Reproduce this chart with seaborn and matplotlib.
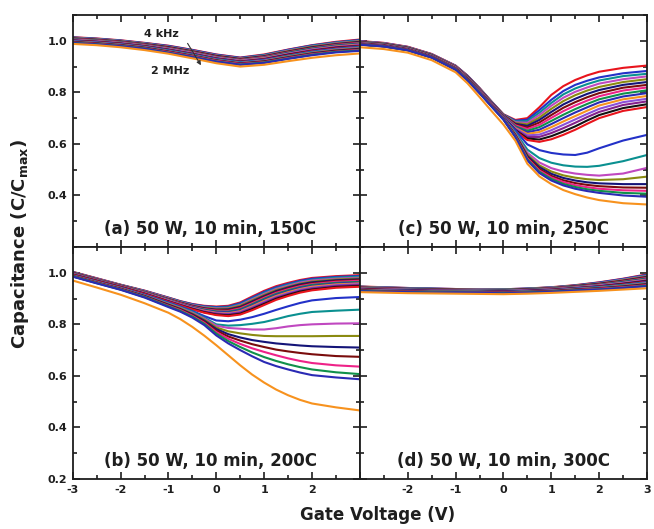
import matplotlib
matplotlib.use("Agg")
import matplotlib.pyplot as plt
import pandas as pd
import seaborn as sns
from matplotlib.ticker import MultipleLocator

# Gate-voltage sweep points (V): coarse for the flat panels, finer for the
# panels whose curves bend sharply around flat-band
gate_v_coarse = [-3, -2.5, -2, -1.5, -1, -0.5, 0, 0.5, 1, 1.5, 2, 2.5, 3]
gate_v_fine = [-3, -2.5, -2, -1.5, -1, -0.75, -0.5, -0.25, 0, 0.25, 0.5,
               0.75, 1, 1.25, 1.5, 1.75, 2, 2.5, 3]

# Measurement frequencies, 4 kHz ... 2 MHz
freq_labels = ["4 kHz", "5.2 kHz", "6.8 kHz", "9 kHz", "12 kHz", "15 kHz", "20 kHz",
               "26 kHz", "34 kHz", "45 kHz", "58 kHz", "76 kHz", "100 kHz", "130 kHz",
               "170 kHz", "220 kHz", "290 kHz", "380 kHz", "500 kHz", "650 kHz",
               "850 kHz", "1.1 MHz", "1.4 MHz", "1.7 MHz", "2 MHz"]

curve_colors = ["#e8141c", "#2331c8", "#0a9090", "#c048c0", "#8a8a10", "#141478",
                "#7a0c0c", "#ee2288", "#10904a", "#2a2ab4", "#f7921e", "#8a4fd8",
                "#84208a", "#111111",
                "#e8141c", "#2331c8", "#0a9090", "#c048c0", "#8a8a10", "#141478",
                "#7a0c0c", "#ee2288", "#10904a", "#2a2ab4", "#f7921e"]

# Normalised capacitance C/Cmax, one row per frequency
cv_150C = [
    [1.014, 1.009, 1.002, 0.992, 0.981, 0.965, 0.947, 0.935, 0.947, 0.966, 0.983, 0.996, 1.005],
    [1.013, 1.008, 1.001, 0.991, 0.980, 0.964, 0.946, 0.934, 0.945, 0.965, 0.982, 0.994, 1.003],
    [1.012, 1.007, 1.000, 0.990, 0.978, 0.962, 0.944, 0.932, 0.944, 0.963, 0.980, 0.993, 1.001],
    [1.011, 1.006, 0.999, 0.989, 0.977, 0.961, 0.943, 0.931, 0.942, 0.962, 0.978, 0.991, 0.999],
    [1.010, 1.005, 0.998, 0.988, 0.976, 0.960, 0.942, 0.930, 0.941, 0.960, 0.977, 0.989, 0.998],
    [1.009, 1.004, 0.997, 0.987, 0.975, 0.959, 0.941, 0.929, 0.940, 0.958, 0.975, 0.987, 0.996],
    [1.008, 1.003, 0.996, 0.986, 0.974, 0.958, 0.940, 0.928, 0.938, 0.957, 0.973, 0.985, 0.994],
    [1.007, 1.002, 0.995, 0.985, 0.972, 0.956, 0.938, 0.926, 0.937, 0.955, 0.971, 0.984, 0.992],
    [1.006, 1.001, 0.994, 0.984, 0.971, 0.955, 0.937, 0.925, 0.935, 0.954, 0.970, 0.982, 0.990],
    [1.005, 1.000, 0.993, 0.983, 0.970, 0.954, 0.936, 0.924, 0.934, 0.952, 0.968, 0.980, 0.988],
    [1.004, 0.999, 0.992, 0.982, 0.969, 0.953, 0.935, 0.923, 0.933, 0.950, 0.966, 0.978, 0.986],
    [1.003, 0.998, 0.991, 0.981, 0.968, 0.952, 0.934, 0.922, 0.931, 0.949, 0.965, 0.976, 0.984],
    [1.002, 0.997, 0.990, 0.980, 0.966, 0.950, 0.932, 0.920, 0.930, 0.947, 0.963, 0.975, 0.982],
    [1.001, 0.996, 0.989, 0.979, 0.965, 0.949, 0.931, 0.919, 0.928, 0.946, 0.961, 0.973, 0.980],
    [1.000, 0.995, 0.988, 0.978, 0.964, 0.948, 0.930, 0.918, 0.927, 0.944, 0.960, 0.971, 0.979],
    [0.999, 0.994, 0.987, 0.977, 0.963, 0.947, 0.929, 0.917, 0.926, 0.942, 0.958, 0.969, 0.977],
    [0.998, 0.993, 0.986, 0.976, 0.962, 0.946, 0.928, 0.916, 0.924, 0.941, 0.956, 0.967, 0.975],
    [0.997, 0.992, 0.985, 0.975, 0.960, 0.944, 0.926, 0.914, 0.923, 0.939, 0.954, 0.966, 0.973],
    [0.996, 0.991, 0.984, 0.974, 0.959, 0.943, 0.925, 0.913, 0.921, 0.938, 0.953, 0.964, 0.971],
    [0.995, 0.990, 0.983, 0.973, 0.958, 0.942, 0.924, 0.912, 0.920, 0.936, 0.951, 0.962, 0.969],
    [0.994, 0.989, 0.982, 0.972, 0.957, 0.941, 0.923, 0.911, 0.919, 0.934, 0.949, 0.960, 0.967],
    [0.993, 0.988, 0.981, 0.971, 0.956, 0.940, 0.922, 0.910, 0.917, 0.933, 0.948, 0.958, 0.965],
    [0.992, 0.987, 0.980, 0.970, 0.954, 0.938, 0.920, 0.908, 0.916, 0.931, 0.946, 0.957, 0.963],
    [0.991, 0.986, 0.979, 0.969, 0.953, 0.937, 0.919, 0.907, 0.914, 0.930, 0.944, 0.955, 0.961],
    [0.988, 0.983, 0.975, 0.964, 0.950, 0.932, 0.913, 0.900, 0.907, 0.921, 0.934, 0.944, 0.951],
]

cv_200C = [
    [1.004, 0.979, 0.954, 0.931, 0.904, 0.890, 0.879, 0.872, 0.869, 0.872, 0.885, 0.908, 0.930, 0.948, 0.961, 0.972, 0.980, 0.987, 0.991],
    [1.003, 0.978, 0.953, 0.930, 0.903, 0.889, 0.878, 0.870, 0.867, 0.869, 0.882, 0.904, 0.926, 0.944, 0.957, 0.969, 0.977, 0.984, 0.988],
    [1.002, 0.977, 0.953, 0.929, 0.902, 0.888, 0.876, 0.868, 0.864, 0.866, 0.878, 0.900, 0.922, 0.940, 0.954, 0.965, 0.973, 0.981, 0.985],
    [1.001, 0.977, 0.952, 0.928, 0.901, 0.886, 0.875, 0.866, 0.862, 0.863, 0.875, 0.897, 0.918, 0.937, 0.950, 0.962, 0.970, 0.977, 0.981],
    [1.001, 0.976, 0.951, 0.927, 0.899, 0.885, 0.873, 0.864, 0.860, 0.861, 0.872, 0.893, 0.914, 0.933, 0.946, 0.958, 0.966, 0.974, 0.978],
    [1.000, 0.975, 0.950, 0.926, 0.898, 0.884, 0.872, 0.862, 0.857, 0.858, 0.868, 0.889, 0.910, 0.929, 0.943, 0.955, 0.963, 0.971, 0.975],
    [0.999, 0.974, 0.950, 0.925, 0.897, 0.883, 0.870, 0.860, 0.855, 0.855, 0.865, 0.885, 0.906, 0.925, 0.939, 0.951, 0.959, 0.968, 0.972],
    [0.998, 0.974, 0.949, 0.925, 0.896, 0.882, 0.869, 0.859, 0.853, 0.852, 0.862, 0.882, 0.903, 0.922, 0.936, 0.948, 0.956, 0.965, 0.969],
    [0.997, 0.973, 0.948, 0.924, 0.895, 0.880, 0.867, 0.857, 0.850, 0.849, 0.858, 0.878, 0.899, 0.918, 0.932, 0.944, 0.953, 0.961, 0.965],
    [0.996, 0.972, 0.948, 0.923, 0.894, 0.879, 0.866, 0.855, 0.848, 0.846, 0.855, 0.874, 0.895, 0.914, 0.928, 0.941, 0.949, 0.958, 0.962],
    [0.995, 0.971, 0.947, 0.922, 0.893, 0.878, 0.864, 0.853, 0.845, 0.843, 0.851, 0.870, 0.891, 0.910, 0.925, 0.937, 0.946, 0.955, 0.959],
    [0.995, 0.970, 0.946, 0.921, 0.892, 0.877, 0.863, 0.851, 0.843, 0.841, 0.848, 0.866, 0.887, 0.906, 0.921, 0.934, 0.942, 0.952, 0.956],
    [0.994, 0.970, 0.946, 0.920, 0.890, 0.876, 0.861, 0.849, 0.841, 0.838, 0.845, 0.863, 0.883, 0.903, 0.917, 0.930, 0.939, 0.949, 0.953],
    [0.993, 0.969, 0.945, 0.919, 0.889, 0.874, 0.860, 0.847, 0.838, 0.835, 0.841, 0.859, 0.879, 0.899, 0.914, 0.927, 0.935, 0.945, 0.949],
    [0.992, 0.968, 0.944, 0.918, 0.888, 0.873, 0.858, 0.845, 0.836, 0.832, 0.838, 0.855, 0.875, 0.895, 0.910, 0.923, 0.932, 0.942, 0.946],
    [0.990, 0.966, 0.942, 0.915, 0.885, 0.869, 0.852, 0.832, 0.815, 0.812, 0.818, 0.828, 0.841, 0.856, 0.870, 0.883, 0.893, 0.902, 0.906],
    [0.989, 0.965, 0.941, 0.913, 0.882, 0.866, 0.849, 0.826, 0.800, 0.795, 0.797, 0.802, 0.809, 0.820, 0.832, 0.841, 0.848, 0.853, 0.857],
    [0.988, 0.964, 0.940, 0.912, 0.880, 0.864, 0.845, 0.822, 0.795, 0.786, 0.783, 0.780, 0.780, 0.785, 0.792, 0.797, 0.800, 0.803, 0.804],
    [0.988, 0.963, 0.939, 0.911, 0.878, 0.862, 0.842, 0.818, 0.788, 0.773, 0.765, 0.759, 0.755, 0.754, 0.754, 0.754, 0.754, 0.755, 0.755],
    [0.987, 0.962, 0.938, 0.910, 0.876, 0.859, 0.839, 0.814, 0.782, 0.762, 0.749, 0.739, 0.732, 0.726, 0.722, 0.718, 0.715, 0.712, 0.710],
    [0.987, 0.962, 0.937, 0.908, 0.874, 0.857, 0.836, 0.810, 0.776, 0.753, 0.737, 0.723, 0.712, 0.702, 0.695, 0.689, 0.684, 0.677, 0.674],
    [0.986, 0.961, 0.936, 0.907, 0.872, 0.855, 0.833, 0.806, 0.770, 0.744, 0.724, 0.707, 0.693, 0.680, 0.668, 0.658, 0.650, 0.641, 0.636],
    [0.986, 0.960, 0.935, 0.906, 0.870, 0.852, 0.830, 0.802, 0.764, 0.735, 0.712, 0.691, 0.673, 0.658, 0.645, 0.634, 0.625, 0.614, 0.607],
    [0.985, 0.959, 0.934, 0.904, 0.867, 0.849, 0.826, 0.797, 0.757, 0.726, 0.700, 0.676, 0.654, 0.638, 0.625, 0.613, 0.603, 0.594, 0.587],
    [0.970, 0.943, 0.915, 0.882, 0.845, 0.820, 0.790, 0.756, 0.719, 0.680, 0.641, 0.605, 0.574, 0.547, 0.525, 0.507, 0.493, 0.478, 0.466],
]

cv_250C = [
    [0.999, 0.992, 0.977, 0.949, 0.904, 0.865, 0.817, 0.765, 0.715, 0.693, 0.700, 0.742, 0.790, 0.824, 0.848, 0.866, 0.880, 0.895, 0.904],
    [0.998, 0.991, 0.976, 0.948, 0.903, 0.864, 0.816, 0.764, 0.714, 0.690, 0.694, 0.731, 0.771, 0.805, 0.829, 0.845, 0.858, 0.874, 0.883],
    [0.997, 0.990, 0.975, 0.947, 0.902, 0.863, 0.815, 0.763, 0.713, 0.687, 0.688, 0.721, 0.759, 0.792, 0.815, 0.832, 0.846, 0.863, 0.872],
    [0.997, 0.990, 0.975, 0.947, 0.901, 0.862, 0.814, 0.762, 0.712, 0.684, 0.682, 0.712, 0.748, 0.779, 0.802, 0.819, 0.834, 0.851, 0.862],
    [0.996, 0.989, 0.974, 0.946, 0.900, 0.861, 0.813, 0.761, 0.712, 0.681, 0.676, 0.702, 0.736, 0.766, 0.789, 0.807, 0.821, 0.840, 0.851],
    [0.995, 0.988, 0.973, 0.945, 0.899, 0.860, 0.812, 0.760, 0.711, 0.678, 0.670, 0.693, 0.724, 0.753, 0.775, 0.794, 0.809, 0.829, 0.840],
    [0.994, 0.987, 0.972, 0.944, 0.899, 0.859, 0.811, 0.759, 0.710, 0.675, 0.664, 0.683, 0.712, 0.740, 0.762, 0.781, 0.797, 0.818, 0.829],
    [0.993, 0.986, 0.971, 0.943, 0.898, 0.858, 0.810, 0.758, 0.709, 0.672, 0.658, 0.674, 0.701, 0.727, 0.749, 0.768, 0.785, 0.807, 0.819],
    [0.993, 0.986, 0.971, 0.943, 0.897, 0.857, 0.809, 0.758, 0.708, 0.668, 0.651, 0.665, 0.689, 0.713, 0.735, 0.755, 0.773, 0.795, 0.808],
    [0.992, 0.985, 0.970, 0.942, 0.896, 0.856, 0.808, 0.757, 0.707, 0.665, 0.645, 0.655, 0.677, 0.700, 0.722, 0.742, 0.761, 0.784, 0.797],
    [0.991, 0.984, 0.969, 0.941, 0.896, 0.855, 0.807, 0.756, 0.706, 0.662, 0.639, 0.646, 0.665, 0.687, 0.708, 0.729, 0.749, 0.773, 0.786],
    [0.990, 0.983, 0.968, 0.940, 0.895, 0.854, 0.806, 0.755, 0.706, 0.659, 0.633, 0.636, 0.653, 0.674, 0.695, 0.716, 0.736, 0.762, 0.775],
    [0.990, 0.983, 0.968, 0.940, 0.894, 0.853, 0.805, 0.754, 0.705, 0.656, 0.627, 0.627, 0.642, 0.661, 0.682, 0.704, 0.724, 0.751, 0.765],
    [0.989, 0.982, 0.967, 0.939, 0.893, 0.852, 0.804, 0.753, 0.704, 0.653, 0.621, 0.617, 0.630, 0.648, 0.668, 0.691, 0.712, 0.739, 0.754],
    [0.988, 0.981, 0.966, 0.938, 0.892, 0.851, 0.803, 0.752, 0.703, 0.650, 0.615, 0.608, 0.618, 0.635, 0.655, 0.678, 0.700, 0.728, 0.743],
    [0.987, 0.980, 0.965, 0.937, 0.891, 0.850, 0.802, 0.751, 0.702, 0.652, 0.598, 0.576, 0.565, 0.559, 0.557, 0.566, 0.583, 0.613, 0.635],
    [0.987, 0.980, 0.965, 0.937, 0.891, 0.850, 0.801, 0.750, 0.701, 0.645, 0.578, 0.545, 0.527, 0.517, 0.512, 0.511, 0.515, 0.533, 0.557],
    [0.987, 0.980, 0.965, 0.937, 0.890, 0.849, 0.801, 0.750, 0.700, 0.640, 0.566, 0.528, 0.506, 0.493, 0.485, 0.480, 0.477, 0.485, 0.507],
    [0.986, 0.979, 0.964, 0.936, 0.890, 0.849, 0.800, 0.749, 0.699, 0.637, 0.558, 0.517, 0.493, 0.478, 0.469, 0.463, 0.460, 0.463, 0.473],
    [0.986, 0.979, 0.964, 0.936, 0.889, 0.848, 0.799, 0.748, 0.698, 0.634, 0.553, 0.510, 0.484, 0.468, 0.458, 0.451, 0.447, 0.444, 0.444],
    [0.986, 0.979, 0.964, 0.936, 0.889, 0.848, 0.799, 0.748, 0.697, 0.632, 0.548, 0.503, 0.476, 0.459, 0.448, 0.441, 0.436, 0.431, 0.430],
    [0.985, 0.978, 0.963, 0.935, 0.888, 0.847, 0.798, 0.747, 0.696, 0.630, 0.544, 0.497, 0.470, 0.452, 0.440, 0.432, 0.426, 0.420, 0.418],
    [0.985, 0.978, 0.963, 0.935, 0.888, 0.847, 0.798, 0.746, 0.695, 0.628, 0.540, 0.492, 0.464, 0.445, 0.433, 0.424, 0.418, 0.410, 0.407],
    [0.985, 0.978, 0.963, 0.935, 0.888, 0.846, 0.797, 0.745, 0.694, 0.626, 0.536, 0.487, 0.458, 0.439, 0.426, 0.417, 0.410, 0.400, 0.395],
    [0.975, 0.968, 0.954, 0.925, 0.878, 0.835, 0.782, 0.728, 0.675, 0.612, 0.523, 0.474, 0.444, 0.421, 0.405, 0.392, 0.382, 0.370, 0.365],
]

cv_300C = [
    [0.947, 0.944, 0.941, 0.939, 0.937, 0.936, 0.936, 0.939, 0.944, 0.952, 0.963, 0.977, 0.994],
    [0.946, 0.943, 0.941, 0.939, 0.937, 0.936, 0.936, 0.939, 0.943, 0.951, 0.962, 0.976, 0.992],
    [0.946, 0.943, 0.940, 0.938, 0.936, 0.935, 0.935, 0.938, 0.943, 0.950, 0.960, 0.974, 0.990],
    [0.945, 0.942, 0.939, 0.937, 0.936, 0.935, 0.934, 0.937, 0.942, 0.949, 0.959, 0.973, 0.988],
    [0.944, 0.941, 0.938, 0.937, 0.935, 0.934, 0.934, 0.937, 0.941, 0.949, 0.958, 0.971, 0.986],
    [0.943, 0.940, 0.938, 0.936, 0.934, 0.933, 0.933, 0.936, 0.940, 0.948, 0.957, 0.969, 0.984],
    [0.942, 0.939, 0.937, 0.935, 0.934, 0.933, 0.932, 0.935, 0.939, 0.947, 0.956, 0.968, 0.982],
    [0.942, 0.939, 0.936, 0.934, 0.933, 0.932, 0.931, 0.934, 0.939, 0.946, 0.954, 0.966, 0.980],
    [0.941, 0.938, 0.936, 0.934, 0.933, 0.932, 0.931, 0.934, 0.938, 0.945, 0.953, 0.965, 0.978],
    [0.940, 0.937, 0.935, 0.933, 0.932, 0.931, 0.930, 0.933, 0.937, 0.944, 0.952, 0.963, 0.976],
    [0.939, 0.936, 0.934, 0.932, 0.931, 0.930, 0.929, 0.932, 0.936, 0.943, 0.951, 0.961, 0.974],
    [0.938, 0.935, 0.934, 0.932, 0.931, 0.930, 0.929, 0.932, 0.935, 0.942, 0.950, 0.960, 0.972],
    [0.938, 0.935, 0.933, 0.931, 0.930, 0.929, 0.928, 0.931, 0.935, 0.941, 0.948, 0.958, 0.970],
    [0.937, 0.934, 0.932, 0.930, 0.930, 0.929, 0.927, 0.930, 0.934, 0.940, 0.947, 0.957, 0.968],
    [0.936, 0.933, 0.931, 0.929, 0.929, 0.928, 0.926, 0.929, 0.933, 0.939, 0.946, 0.955, 0.966],
    [0.935, 0.932, 0.931, 0.929, 0.928, 0.927, 0.926, 0.929, 0.932, 0.939, 0.945, 0.953, 0.964],
    [0.934, 0.931, 0.930, 0.928, 0.928, 0.927, 0.925, 0.928, 0.931, 0.938, 0.944, 0.952, 0.962],
    [0.934, 0.931, 0.929, 0.927, 0.927, 0.926, 0.924, 0.927, 0.931, 0.937, 0.942, 0.950, 0.960],
    [0.933, 0.930, 0.929, 0.927, 0.927, 0.926, 0.924, 0.927, 0.930, 0.936, 0.941, 0.949, 0.958],
    [0.932, 0.929, 0.928, 0.926, 0.926, 0.925, 0.923, 0.926, 0.929, 0.935, 0.940, 0.947, 0.956],
    [0.931, 0.928, 0.927, 0.925, 0.925, 0.924, 0.922, 0.925, 0.928, 0.934, 0.939, 0.945, 0.954],
    [0.930, 0.927, 0.927, 0.925, 0.925, 0.924, 0.922, 0.925, 0.927, 0.933, 0.938, 0.944, 0.952],
    [0.930, 0.927, 0.926, 0.924, 0.924, 0.923, 0.921, 0.924, 0.927, 0.932, 0.936, 0.942, 0.950],
    [0.929, 0.926, 0.925, 0.923, 0.924, 0.923, 0.920, 0.923, 0.926, 0.931, 0.935, 0.941, 0.948],
    [0.925, 0.923, 0.921, 0.920, 0.919, 0.918, 0.917, 0.919, 0.922, 0.926, 0.930, 0.935, 0.940],
]

panel_titles = ["(a) 50 W, 10 min, 150C", "(b) 50 W, 10 min, 200C",
                "(c) 50 W, 10 min, 250C", "(d) 50 W, 10 min, 300C"]

# Long-form table: one row per (anneal, frequency, gate voltage)
records = []
for anneal, grid, curves in [("150C", gate_v_coarse, cv_150C),
                             ("200C", gate_v_fine, cv_200C),
                             ("250C", gate_v_fine, cv_250C),
                             ("300C", gate_v_coarse, cv_300C)]:
    for label, values in zip(freq_labels, curves):
        for v, c in zip(grid, values):
            records.append((anneal, label, v, c))
df = pd.DataFrame(records, columns=["anneal", "freq", "V", "C"])

sns.set_style("ticks")
plt.rcParams.update({
    "font.family": ["DejaVu Sans"],
    "font.weight": "bold",
    "mathtext.fontset": "dejavusans",
    "axes.linewidth": 1.3,
    "axes.edgecolor": "#1e1e1e",
    "xtick.color": "#1e1e1e",
    "ytick.color": "#1e1e1e",
    "text.color": "#1e1e1e",
})

fig, axes = plt.subplots(2, 2, figsize=(6.54, 5.29), dpi=100)
fig.subplots_adjust(left=0.1112, right=0.9893, top=0.9716, bottom=0.0945,
                    wspace=0, hspace=0)

layout = [
    (axes[0, 0], "150C", panel_titles[0], 0.48),
    (axes[1, 0], "200C", panel_titles[1], 0.48),
    (axes[0, 1], "250C", panel_titles[2], 0.50),
    (axes[1, 1], "300C", panel_titles[3], 0.50),
]

for ax, anneal, title, tx in layout:
    sub = df[df["anneal"] == anneal]
    sns.lineplot(data=sub, x="V", y="C", hue="freq", hue_order=freq_labels,
                 palette=curve_colors, legend=False, errorbar=None,
                 linewidth=1.5, ax=ax)
    ax.set_xlim(-3, 3)
    ax.set_ylim(0.2, 1.1)
    ax.set_xlabel("")
    ax.set_ylabel("")
    ax.xaxis.set_major_locator(MultipleLocator(1))
    ax.xaxis.set_minor_locator(MultipleLocator(0.5))
    ax.yaxis.set_major_locator(MultipleLocator(0.2))
    ax.yaxis.set_minor_locator(MultipleLocator(0.1))
    ax.tick_params(which="both", direction="in", top=True, right=True,
                   width=1.2, labelsize=8)
    ax.tick_params(which="major", length=5, pad=4)
    ax.tick_params(which="minor", length=3)
    ax.text(tx, 0.055, title, transform=ax.transAxes, ha="center",
            va="baseline", fontsize=12, fontweight="bold")

yt = [0.2, 0.4, 0.6, 0.8, 1.0]
xt = [-3, -2, -1, 0, 1, 2, 3]
axes[0, 0].set_yticks(yt, ["", "0.4", "0.6", "0.8", "1.0"])
axes[1, 0].set_yticks(yt, ["0.2", "0.4", "0.6", "0.8", "1.0"])
axes[1, 0].set_xticks(xt, ["-3", "-2", "-1", "0", "1", "2", ""])
axes[1, 1].set_xticks(xt, ["", "-2", "-1", "0", "1", "2", "3"])
for ax in (axes[0, 0], axes[0, 1]):
    ax.tick_params(labelbottom=False)
for ax in (axes[0, 1], axes[1, 1]):
    ax.tick_params(labelleft=False)

# Frequency direction marker in panel (a)
ax_a = axes[0, 0]
ax_a.text(-1.14, 1.026, "4 kHz", ha="center", va="center", fontsize=8, fontweight="bold")
ax_a.text(-0.96, 0.882, "2 MHz", ha="center", va="center", fontsize=8, fontweight="bold")
ax_a.annotate("", xy=(-0.32, 0.905), xytext=(-0.60, 0.99),
              arrowprops=dict(arrowstyle="-|>", lw=0.8, color="#333333",
                              mutation_scale=6, shrinkA=0, shrinkB=0))

fig.text(0.031, 0.54, r"Capacitance (C/C$_{\mathbf{max}}$)", rotation=90,
         ha="center", va="center", fontsize=13, fontweight="bold")
fig.text(0.578, 0.026, "Gate Voltage (V)", ha="center", va="center",
         fontsize=12, fontweight="bold")

fig.savefig("out.png", dpi=100, facecolor="white")
